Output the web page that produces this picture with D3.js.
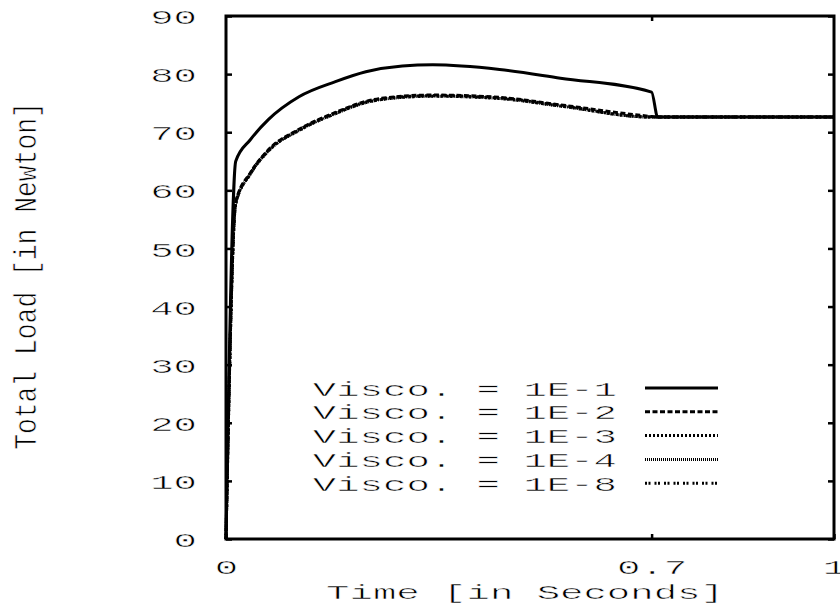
<!DOCTYPE html>
<html>
<head>
<meta charset="utf-8">
<script src="https://cdn.jsdelivr.net/npm/d3@7"></script>
<style>
  body { margin: 0; background: #fff; }
  text { font-family: "Liberation Mono", monospace; fill: #000; stroke: #fff; stroke-width: 0.5px; }
</style>
</head>
<body>
<script>
// data
const timeSteps = [0, 0.016, 0.04, 0.07, 0.12, 0.18, 0.23, 0.29, 0.34, 0.45, 0.55, 0.70, 0.71, 1.0];
const visc1e1 = [0, 65.0, 68.7, 72.2, 76.1, 78.7, 80.4, 81.4, 81.6, 80.8, 79.3, 76.9, 72.6, 72.6];
const visc1e2 = [0, 58.0, 63.0, 67.0, 70.5, 73.4, 75.3, 76.2, 76.4, 76.0, 74.7, 72.7, 72.6, 72.6];
const visc1e3 = [0, 57.8, 62.9, 66.9, 70.4, 73.3, 75.2, 76.1, 76.3, 75.9, 74.6, 72.6, 72.6, 72.6];
const visc1e4 = [0, 57.7, 62.8, 66.8, 70.3, 73.2, 75.1, 76.0, 76.2, 75.8, 74.5, 72.6, 72.6, 72.6];
const visc1e8 = [0, 57.7, 62.8, 66.8, 70.3, 73.2, 75.1, 76.0, 76.2, 75.8, 74.5, 72.6, 72.6, 72.6];
const seriesNames = ["Visco. = 1E-1", "Visco. = 1E-2", "Visco. = 1E-3", "Visco. = 1E-4", "Visco. = 1E-8"];
const yTicks = [0, 10, 20, 30, 40, 50, 60, 70, 80, 90];
const xTicks = [0, 0.7, 1];

const series = [visc1e1, visc1e2, visc1e3, visc1e4, visc1e8];
const dashes = [null, "5,2.5", "2,2", "1,1", "2,1.5,2,4"];

let width = 840, height = 611;
let plotL = 226, plotR = 834, plotT = 16, plotB = 539;
const charW = 23.4; // the glyphs in the original are stretched wide

let svg = d3.select("body").append("svg")
    .attr("width", width)
    .attr("height", height);

let x = d3.scaleLinear().domain([0, 1]).range([plotL, plotR]);
let y = d3.scaleLinear().domain([0, 90]).range([plotB, plotT]);

function stretch(sel, cw) {
    sel.each(function() {
        let t = d3.select(this);
        t.attr("textLength", t.text().length * cw).attr("lengthAdjust", "spacingAndGlyphs");
    });
}

// axes, ticks point inward
let gy = svg.append("g").attr("transform", `translate(${plotL},0)`)
    .call(d3.axisLeft(y).tickValues(yTicks).tickSize(-6).tickPadding(29).tickFormat(d3.format("d")));
let gyr = svg.append("g").attr("transform", `translate(${plotR},0)`)
    .call(d3.axisRight(y).tickValues(yTicks).tickSize(-6).tickFormat(""));
let gx = svg.append("g").attr("transform", `translate(0,${plotB})`)
    .call(d3.axisBottom(x).tickValues(xTicks).tickSize(-5).tickPadding(20).tickFormat(d => d === 0.7 ? "0.7" : d3.format("d")(d)));
let gxt = svg.append("g").attr("transform", `translate(0,${plotT})`)
    .call(d3.axisTop(x).tickValues([0.7]).tickSize(-5).tickFormat(""));

[gy, gyr, gx, gxt].forEach(g => {
    g.select(".domain").remove();
    g.selectAll(".tick line").attr("stroke", "#000").attr("stroke-width", 2.5);
});
gy.selectAll(".tick text").attr("font-size", 21).attr("dy", "0.36em").call(stretch, charW);
gx.selectAll(".tick text").attr("font-size", 21).call(stretch, charW);

// frame
svg.append("rect").attr("x", plotL).attr("y", plotT)
    .attr("width", plotR - plotL).attr("height", plotB - plotT)
    .attr("fill", "none").attr("stroke", "#000").attr("stroke-width", 3);

// curves
let line = d3.line()
    .x((d, i) => x(timeSteps[i]))
    .y(d => y(d))
    .curve(d3.curveMonotoneX);

series.forEach((s, i) => {
    svg.append("path").datum(s)
        .attr("d", line)
        .attr("fill", "none")
        .attr("stroke", "#000")
        .attr("stroke-width", 3)
        .attr("stroke-dasharray", dashes[i]);
});

// legend
let legY = 388, legStep = 23.8;
seriesNames.forEach((name, i) => {
    svg.append("text")
        .attr("x", 617).attr("y", legY + i * legStep)
        .attr("dy", "0.36em")
        .attr("text-anchor", "end")
        .attr("font-size", 21)
        .text(name)
        .call(stretch, charW);
    svg.append("line")
        .attr("x1", 645).attr("x2", 718)
        .attr("y1", legY + i * legStep).attr("y2", legY + i * legStep)
        .attr("stroke", "#000").attr("stroke-width", 3)
        .attr("stroke-dasharray", dashes[i]);
});

// axis titles
svg.append("text")
    .attr("x", 525).attr("y", 599)
    .attr("text-anchor", "middle")
    .attr("font-size", 21)
    .text("Time [in Seconds]")
    .call(stretch, charW);

svg.append("text")
    .attr("transform", "translate(36,276) scale(1.45,1) rotate(-90)")
    .attr("text-anchor", "middle")
    .attr("font-size", 21)
    .attr("stroke-width", 0.35)
    .text("Total Load [in Newton]")
    .call(stretch, 15.8);
</script>
</body>
</html>
